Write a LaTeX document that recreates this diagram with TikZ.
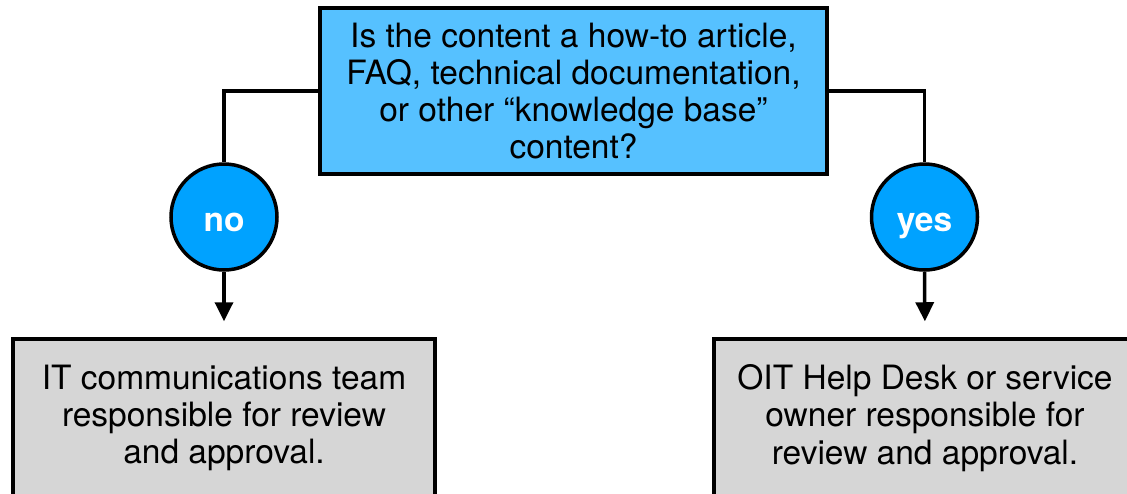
\documentclass[tikz,border=0pt]{standalone}
\usepackage{fontspec}
\setmainfont{TeX Gyre Heros}
\usetikzlibrary{arrows.meta}

\definecolor{qblue}{HTML}{56C1FF}
\definecolor{ablue}{HTML}{00A2FF}
\definecolor{ogray}{HTML}{D6D6D6}
\newcommand{\diagfont}{\fontsize{33.5pt}{37.2pt}\selectfont}

\begin{document}
\begin{tikzpicture}[
        x=1pt, y=-1pt,
        line width=3.5pt,
        every node/.style={font=\diagfont},
        question/.style={draw, fill=qblue, minimum width=507pt, minimum height=166pt, align=center, inner sep=0pt},
        answer/.style={draw, circle, fill=ablue, minimum size=106pt, inner sep=0pt, text height=34pt, text depth=6pt, text=white, font=\diagfont\bfseries},
        owner/.style={draw, fill=ogray, minimum width=422pt, minimum height=158pt, align=center, inner sep=0pt},
        flow/.style={-{Triangle[width=18pt,length=19pt]}, shorten >=16pt},
    ]
        \useasboundingbox (0, 0) rectangle (1127, 493);
        \clip (0, 0) rectangle (1127, 493);

        \node[question] (kb) at (573.5, 91) {Is the content a how-to article,\\FAQ, technical documentation,\\or other “knowledge base”\\content?};

        \node[answer] (no) at (224, 217) {no};
        \node[answer] (yes) at (924.5, 217) {yes};

        \node[owner] (itcomm) at (224, 418) {IT communications team\\responsible for review\\and approval.};
        \node[owner] (helpdesk) at (925, 418) {OIT Help Desk or service\\owner responsible for\\review and approval.};

        \draw (kb.west) -| (no.north);
        \draw (kb.east) -| (yes.north);

        \draw[flow] (no.south) -- (itcomm.north);
        \draw[flow] (yes.south) -- (helpdesk.north);
    \end{tikzpicture}
\end{document}
